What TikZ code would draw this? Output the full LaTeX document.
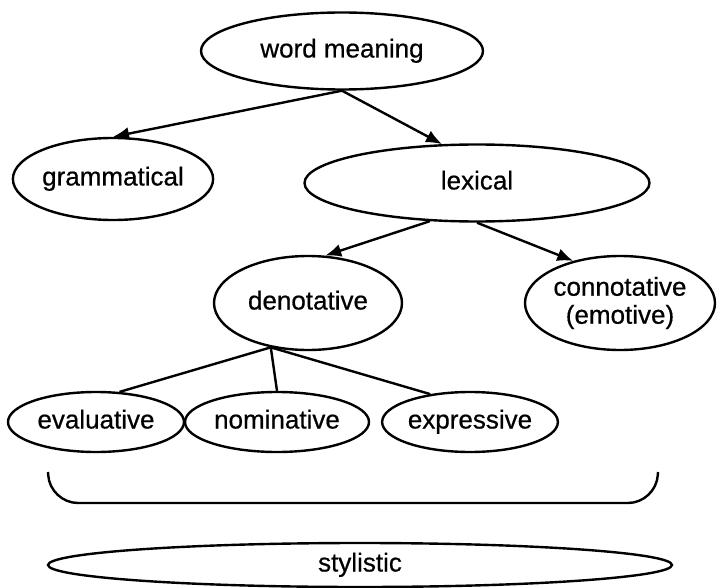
\documentclass[tikz,border=0pt]{standalone}
\usepackage{fontspec}
\setmainfont{Liberation Sans}[FakeBold=0.6]
\usepackage{tikz}
\usetikzlibrary{arrows.meta,shapes.geometric}
\tikzstyle{oval}=[draw,ellipse,inner sep=0pt,text height=19pt,text depth=6pt,font=\fontsize{26}{28}\selectfont]
\tikzstyle{arr}=[-{Latex[length=16pt,width=13pt]}]

\begin{document}
\begin{tikzpicture}[x=1pt,y=1pt,line width=2.4pt]
\useasboundingbox (0,0) rectangle (717,-588);
\node [oval,minimum width=282pt,minimum height=77pt] (wm) at (342,-51) {word meaning};
\node [oval,minimum width=200pt,minimum height=82pt] (gram) at (113,-179) {grammatical};
\node [oval,minimum width=345pt,minimum height=77pt] (lex) at (477,-183) {lexical};
\node [oval,minimum width=188pt,minimum height=94pt] (den) at (308,-303) {denotative};
\node [oval,minimum width=190pt,minimum height=94pt,text height={},text depth={},align=center] (con) at (620,-303) {connotative\\(emotive)};
\node [oval,minimum width=176pt,minimum height=60pt] (eval) at (96,-422) {evaluative};
\node [oval,minimum width=184pt,minimum height=60pt] (nom) at (277,-422) {nominative};
\node [oval,minimum width=172pt,minimum height=60pt] (expr) at (470,-422) {expressive};
\node [oval,minimum width=624pt,minimum height=44pt] (styl) at (360,-565) {stylistic};

% arrows
\draw [arr] (wm.south) -- (gram.north);
\draw [arr] (wm.south) -- (lex.132);
\draw [arr] (lex.219) -- (den.70);
\draw [arr] (lex.south) -- (con.138);

% plain lines
\draw (den.230) -- (eval.52);
\draw (den.230) -- (nom.north);
\draw (den.230) -- (expr.145);

% bracket
\draw [rounded corners=28pt] (48,-472) -- (50,-503) -- (656,-503) -- (658,-472);
\end{tikzpicture}
\end{document}
